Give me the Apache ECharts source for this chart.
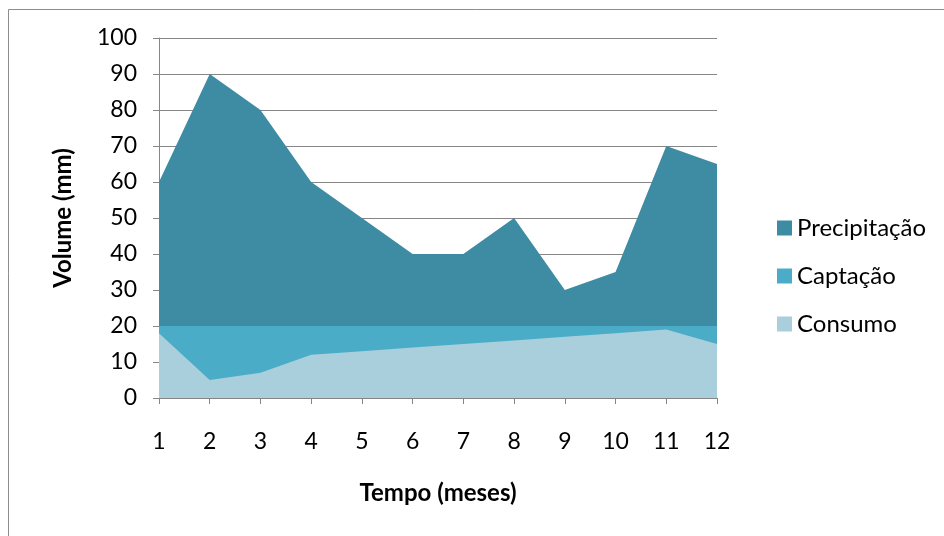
<!DOCTYPE html>
<html>
<head>
<meta charset="utf-8">
<script src="https://cdn.jsdelivr.net/npm/echarts@6/dist/echarts.min.js"></script>
<style>
  html, body { margin: 0; padding: 0; background: #fff; }
  #chart { width: 944px; height: 536px; }
</style>
</head>
<body>
<div id="chart"></div>
<script>
// Monthly water balance: rainfall, harvested volume and consumption (mm)
const months = ['1', '2', '3', '4', '5', '6', '7', '8', '9', '10', '11', '12'];
const precipitacao = [60, 90, 80, 60, 50, 40, 40, 50, 30, 35, 70, 65];
const captacao = [20, 20, 20, 20, 20, 20, 20, 20, 20, 20, 20, 20];
const consumo = [18, 5, 7, 12, 13, 14, 15, 16, 17, 18, 19, 15];
const yTicks = [0, 10, 20, 30, 40, 50, 60, 70, 80, 90, 100];

const FONT = 'Lato, "Open Sans", sans-serif';
const AXIS_GRAY = '#868686';

function areaSeries(name, data, color) {
  return {
    name: name,
    type: 'line',
    data: data,
    symbol: 'none',
    lineStyle: { width: 0 },
    areaStyle: { color: color, opacity: 1, origin: 'start' },
    itemStyle: { color: color },
    silent: true
  };
}

const chart = echarts.init(document.getElementById('chart'), null, { renderer: 'canvas' });
chart.setOption({
  animation: false,
  backgroundColor: '#ffffff',
  textStyle: { fontFamily: FONT },
  graphic: [{
    type: 'rect',
    shape: { x: 8.5, y: 9.5, width: 1000, height: 1000 },
    style: { fill: 'none', stroke: '#8c8c8c', lineWidth: 1 },
    silent: true
  }],
  grid: { left: 159, right: 227, top: 38, bottom: 138, containLabel: false },
  legend: {
    orient: 'vertical',
    left: 772,
    top: 211,
    itemWidth: 15,
    itemHeight: 15,
    itemGap: 24,
    icon: 'rect',
    textStyle: { fontFamily: FONT, fontSize: 24, lineHeight: 24, color: '#000' },
    data: ['Precipitação', 'Captação', 'Consumo']
  },
  xAxis: {
    type: 'category',
    data: months,
    boundaryGap: false,
    name: 'Tempo (meses)',
    nameLocation: 'middle',
    nameGap: 83,
    nameTextStyle: { fontFamily: FONT, fontSize: 24, fontWeight: 'bold', color: '#000' },
    axisLine: { lineStyle: { color: AXIS_GRAY, width: 1 } },
    axisTick: { show: true, length: 6, alignWithLabel: true, lineStyle: { color: AXIS_GRAY } },
    axisLabel: { fontFamily: FONT, fontSize: 23, color: '#000', margin: 32 },
    splitLine: { show: false }
  },
  yAxis: {
    type: 'value',
    min: 0,
    max: 100,
    interval: 10,
    name: 'Volume (mm)',
    nameLocation: 'middle',
    nameGap: 84,
    nameRotate: 90,
    nameTextStyle: { fontFamily: FONT, fontSize: 24, fontWeight: 'bold', color: '#000' },
    axisLine: { show: true, lineStyle: { color: AXIS_GRAY, width: 1 } },
    axisTick: { show: true, length: 6, lineStyle: { color: AXIS_GRAY } },
    axisLabel: {
      fontFamily: FONT, fontSize: 23, color: '#000', margin: 22,
      formatter: function (v) { return yTicks.indexOf(v) >= 0 ? String(v) : ''; }
    },
    splitLine: { show: true, lineStyle: { color: AXIS_GRAY, width: 1 } }
  },
  series: [
    areaSeries('Precipitação', precipitacao, '#3d8ca3'),
    areaSeries('Captação', captacao, '#4aacc6'),
    areaSeries('Consumo', consumo, '#a9cedc')
  ]
});
</script>
</body>
</html>
